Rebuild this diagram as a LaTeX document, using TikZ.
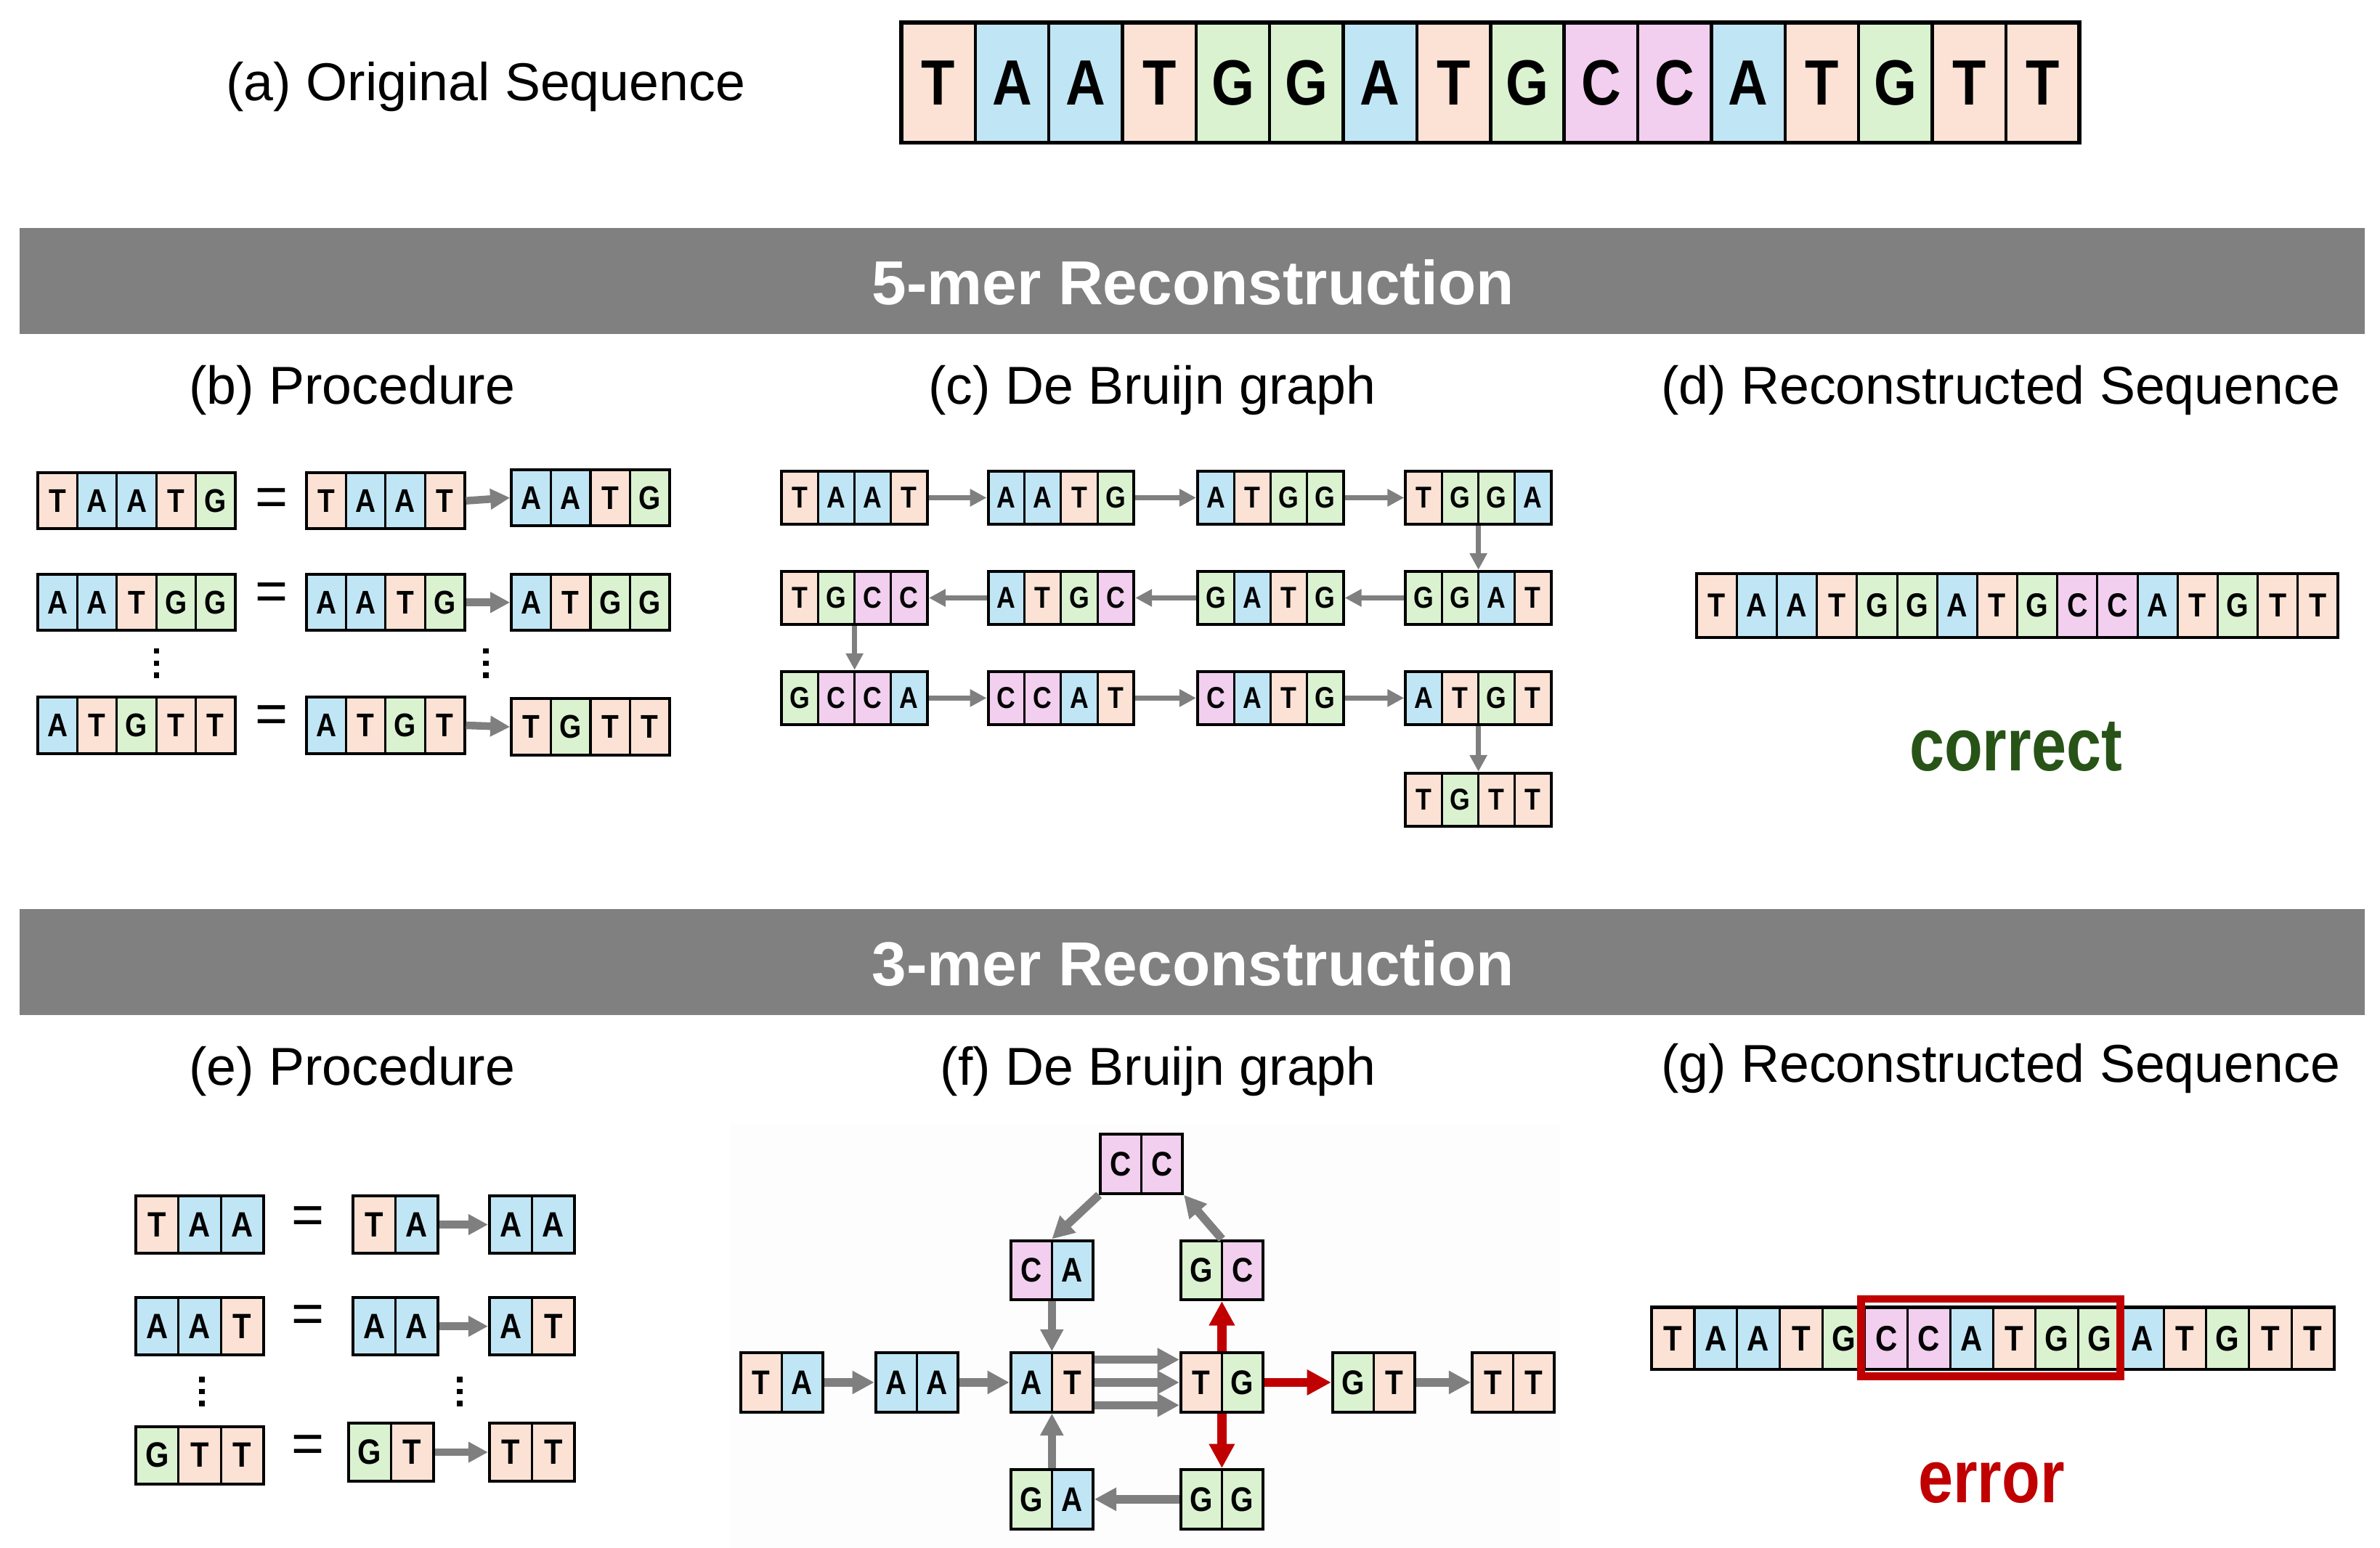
\documentclass[tikz,border=0pt]{standalone}
\usepackage{fontspec}
\setmainfont{Liberation Sans}
\usetikzlibrary{arrows.meta}
\definecolor{colT}{HTML}{FBE2D5}
\definecolor{colA}{HTML}{C0E6F5}
\definecolor{colG}{HTML}{DAF2D0}
\definecolor{colC}{HTML}{F2CEEF}
\definecolor{bangray}{HTML}{808080}
\definecolor{arrgray}{HTML}{7F7F7F}
\definecolor{errred}{HTML}{C00000}
\definecolor{okgreen}{HTML}{275317}
\tikzset{
  titletext/.style={font=\fontsize{20}{24}\selectfont, inner sep=0},
  bantext/.style={font=\bfseries\fontsize{23.3}{28}\selectfont, text=white, inner sep=0},
  eqsign/.style={font=\fontsize{21}{24}\selectfont, inner sep=0},
  garrB/.style={draw=arrgray, line width=1mm, -{Triangle[length=2.6mm,width=2.6mm]}},
  garrC/.style={draw=arrgray, line width=0.7mm, -{Triangle[length=2.2mm,width=2.2mm]}},
  garrF/.style={draw=arrgray, line width=1.1mm, -{Triangle[length=2.9mm,width=2.9mm]}},
  rarrF/.style={draw=errred, line width=1.2mm, -{Triangle[length=3.2mm,width=3.2mm]}},
  verdict/.style={font=\bfseries\fontsize{28}{32}\selectfont, inner sep=0},
}
% #1 name, #2 cx, #3 cy, #4 cell w, #5 cell h, #6 letters, #7 count, #8 font pt, #9 outer line width
\newcommand{\kmer}[9]{%
  \pgfmathsetmacro{\kw}{#4*#7}%
  \pgfmathsetmacro{\kx}{#2-\kw/2}%
  \foreach \l [count=\i] in {#6} {%
    \pgfmathsetmacro{\xl}{\kx+(\i-1)*#4}%
    \fill[fill=col\l] (\xl,#3-#5/2) rectangle ++(#4,#5);
    \node[inner sep=0, font=\bfseries\fontsize{#8}{#8}\selectfont] at (\xl+#4/2,#3) {\scalebox{0.86}[1]{\l}};
    \ifnum\i>1 \draw[line width=0.75*#9] (\xl,#3-#5/2) -- ++(0,#5);\fi
  }%
  \node[draw, line width=#9, inner sep=0, minimum width=\kw*0.2mm, minimum height=#5*0.2mm] (#1) at (#2,#3) {};
}
\newcommand{\mydots}[2]{%
  \foreach \d in {-8,0,8} {\fill (#1-1.8,#2+\d-1.8) rectangle ++(3.6,3.6);}%
}
\begin{document}
\begin{tikzpicture}[x=0.2mm, y=-0.2mm]
\useasboundingbox (0,0) rectangle (1568,1020);
\fill[white] (0,0) rectangle (1568,1020);
\fill[fill={rgb,255:red,253;green,253;blue,253}] (481,741) rectangle (1028,1020);

% (a)
\node[titletext] (ta) at (320,57) {(a) Original Sequence};
\kmer{orig}{982}{54.5}{48.5}{79}{T,A,A,T,G,G,A,T,G,C,C,A,T,G,T,T}{16}{24}{1.6pt}

% banners
\fill[bangray] (13,150) rectangle (1558,220);
\node[bantext] (ban1) at (786,186) {5-mer Reconstruction};
\fill[bangray] (13,599) rectangle (1558,669);
\node[bantext] (ban2) at (786,635) {3-mer Reconstruction};

% subtitles
\node[titletext] (tb) at (232,257) {(b) Procedure};
\node[titletext] (tc) at (759,257) {(c) De Bruijn graph};
\node[titletext] (td) at (1318,257) {(d) Reconstructed Sequence};
\node[titletext] (te) at (232,706) {(e) Procedure};
\node[titletext] (tf) at (763,706) {(f) De Bruijn graph};
\node[titletext] (tg) at (1318,704) {(g) Reconstructed Sequence};

% (b) procedure
\kmer{b1l}{90}{330}{26}{37}{T,A,A,T,G}{5}{12.3}{1.1pt}
\node[eqsign] (b1e) at (179,331) {=};
\kmer{b1m}{254}{330}{26}{37}{T,A,A,T}{4}{12.3}{1.1pt}
\kmer{b1r}{389}{328}{26}{37}{A,A,T,G}{4}{12.3}{1.1pt}
\draw[garrB] (b1m.east) -- (b1r.west);
\kmer{b2l}{90}{397}{26}{37}{A,A,T,G,G}{5}{12.3}{1.1pt}
\node[eqsign] (b2e) at (179,393) {=};
\kmer{b2m}{254}{397}{26}{37}{A,A,T,G}{4}{12.3}{1.1pt}
\kmer{b2r}{389}{397}{26}{37}{A,T,G,G}{4}{12.3}{1.1pt}
\draw[garrB] (b2m.east) -- (b2r.west);
\mydots{103}{437}
\mydots{320}{437}
\kmer{b3l}{90}{478}{26}{37}{A,T,G,T,T}{5}{12.3}{1.1pt}
\node[eqsign] (b3e) at (179,474) {=};
\kmer{b3m}{254}{478}{26}{37}{A,T,G,T}{4}{12.3}{1.1pt}
\kmer{b3r}{389}{479}{26}{37}{T,G,T,T}{4}{12.3}{1.1pt}
\draw[garrB] (b3m.east) -- (b3r.west);

% (c) de Bruijn graph, k=5
\kmer{c11}{563}{328}{24}{35}{T,A,A,T}{4}{11.3}{1.1pt}
\kmer{c12}{699}{328}{24}{35}{A,A,T,G}{4}{11.3}{1.1pt}
\kmer{c13}{837}{328}{24}{35}{A,T,G,G}{4}{11.3}{1.1pt}
\kmer{c14}{974}{328}{24}{35}{T,G,G,A}{4}{11.3}{1.1pt}
\kmer{c21}{563}{394}{24}{35}{T,G,C,C}{4}{11.3}{1.1pt}
\kmer{c22}{699}{394}{24}{35}{A,T,G,C}{4}{11.3}{1.1pt}
\kmer{c23}{837}{394}{24}{35}{G,A,T,G}{4}{11.3}{1.1pt}
\kmer{c24}{974}{394}{24}{35}{G,G,A,T}{4}{11.3}{1.1pt}
\kmer{c31}{563}{460}{24}{35}{G,C,C,A}{4}{11.3}{1.1pt}
\kmer{c32}{699}{460}{24}{35}{C,C,A,T}{4}{11.3}{1.1pt}
\kmer{c33}{837}{460}{24}{35}{C,A,T,G}{4}{11.3}{1.1pt}
\kmer{c34}{974}{460}{24}{35}{A,T,G,T}{4}{11.3}{1.1pt}
\kmer{c44}{974}{527}{24}{35}{T,G,T,T}{4}{11.3}{1.1pt}
\draw[garrC] (c11.east) -- (c12.west);
\draw[garrC] (c12.east) -- (c13.west);
\draw[garrC] (c13.east) -- (c14.west);
\draw[garrC] (c14.south) -- (c24.north);
\draw[garrC] (c24.west) -- (c23.east);
\draw[garrC] (c23.west) -- (c22.east);
\draw[garrC] (c22.west) -- (c21.east);
\draw[garrC] (c21.south) -- (c31.north);
\draw[garrC] (c31.east) -- (c32.west);
\draw[garrC] (c32.east) -- (c33.west);
\draw[garrC] (c33.east) -- (c34.west);
\draw[garrC] (c34.south) -- (c44.north);

% (d)
\kmer{dseq}{1329}{399}{26.4}{42}{T,A,A,T,G,G,A,T,G,C,C,A,T,G,T,T}{16}{12.5}{1.1pt}
\node[verdict, text=okgreen] (dok) at (1328,492) {\scalebox{0.84}[1]{correct}};

% (e) procedure
\kmer{e1l}{131.5}{807}{28}{38}{T,A,A}{3}{13.2}{1.1pt}
\node[eqsign] (e1e) at (203,804) {=};
\kmer{e1m}{260.5}{807}{28}{38}{T,A}{2}{13.2}{1.1pt}
\kmer{e1r}{350.5}{807}{28}{38}{A,A}{2}{13.2}{1.1pt}
\draw[garrB] (e1m.east) -- (e1r.west);
\kmer{e2l}{131.5}{874}{28}{38}{A,A,T}{3}{13.2}{1.1pt}
\node[eqsign] (e2e) at (203,869) {=};
\kmer{e2m}{260.5}{874}{28}{38}{A,A}{2}{13.2}{1.1pt}
\kmer{e2r}{350.5}{874}{28}{38}{A,T}{2}{13.2}{1.1pt}
\draw[garrB] (e2m.east) -- (e2r.west);
\mydots{133}{917}
\mydots{303}{917}
\kmer{e3l}{131.5}{959}{28}{38}{G,T,T}{3}{13.2}{1.1pt}
\node[eqsign] (e3e) at (203,955) {=};
\kmer{e3m}{257.5}{957}{28}{38}{G,T}{2}{13.2}{1.1pt}
\kmer{e3r}{350.5}{957}{28}{38}{T,T}{2}{13.2}{1.1pt}
\draw[garrB] (e3m.east) -- (e3r.west);

% (f) de Bruijn graph, k=3
\kmer{fCC}{752}{767}{27}{39}{C,C}{2}{12.8}{1.1pt}
\kmer{fCA}{693}{837}{27}{39}{C,A}{2}{12.8}{1.1pt}
\kmer{fGC}{805}{837}{27}{39}{G,C}{2}{12.8}{1.1pt}
\kmer{fTA}{515}{911}{27}{39}{T,A}{2}{12.8}{1.1pt}
\kmer{fAA}{604}{911}{27}{39}{A,A}{2}{12.8}{1.1pt}
\kmer{fAT}{693}{911}{27}{39}{A,T}{2}{12.8}{1.1pt}
\kmer{fTG}{805}{911}{27}{39}{T,G}{2}{12.8}{1.1pt}
\kmer{fGT}{905}{911}{27}{39}{G,T}{2}{12.8}{1.1pt}
\kmer{fTT}{997}{911}{27}{39}{T,T}{2}{12.8}{1.1pt}
\kmer{fGA}{693}{988}{27}{39}{G,A}{2}{12.8}{1.1pt}
\kmer{fGG}{805}{988}{27}{39}{G,G}{2}{12.8}{1.1pt}
\draw[garrF] (fTA.east) -- (fAA.west);
\draw[garrF] (fAA.east) -- (fAT.west);
\draw[garrF] ([yshift=3mm]fAT.east) -- ([yshift=3mm]fTG.west);
\draw[garrF] (fAT.east) -- (fTG.west);
\draw[garrF] ([yshift=-3mm]fAT.east) -- ([yshift=-3mm]fTG.west);
\draw[garrF] (fGT.east) -- (fTT.west);
\draw[garrF] (fCA.south) -- (fAT.north);
\draw[garrF] (fGA.north) -- (fAT.south);
\draw[garrF] (fGG.west) -- (fGA.east);
\draw[garrF] (fCC.south west) -- (fCA.north);
\draw[garrF] (fGC.north) -- (fCC.south east);
\draw[rarrF] (fTG.east) -- (fGT.west);
\draw[rarrF] (fTG.north) -- (fGC.south);
\draw[rarrF] (fTG.south) -- (fGG.north);

% (g)
\kmer{gseq}{1313}{882}{28.1}{41}{T,A,A,T,G,C,C,A,T,G,G,A,T,G,T,T}{16}{13.3}{1.1pt}
\draw[errred, line width=1mm] (1226,856) rectangle (1397,907);
\node[verdict, text=errred] (gerr) at (1312,977) {\scalebox{0.84}[1]{error}};
\end{tikzpicture}
\end{document}
